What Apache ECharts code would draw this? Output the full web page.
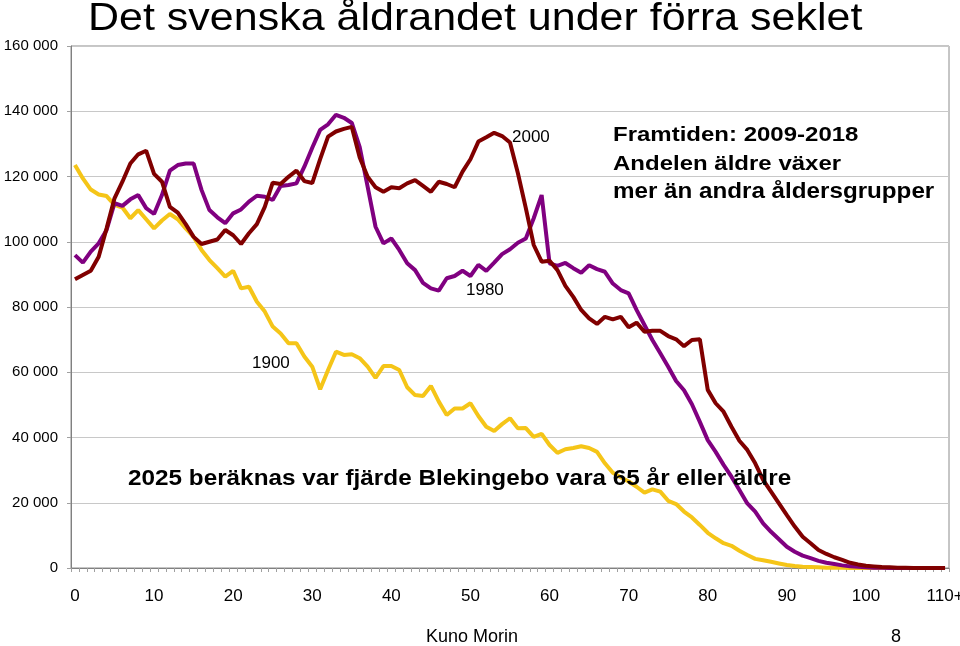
<!DOCTYPE html>
<html>
<head>
<meta charset="utf-8">
<script src="https://cdn.jsdelivr.net/npm/echarts@6/dist/echarts.min.js"></script>
<style>
html,body{margin:0;padding:0;background:#fff;}
#chart{width:960px;height:646px;}
</style>
</head>
<body>
<div id="chart"></div>
<script>
const categories = ['0','1','2','3','4','5','6','7','8','9',
'10','11','12','13','14','15','16','17','18','19',
'20','21','22','23','24','25','26','27','28','29',
'30','31','32','33','34','35','36','37','38','39',
'40','41','42','43','44','45','46','47','48','49',
'50','51','52','53','54','55','56','57','58','59',
'60','61','62','63','64','65','66','67','68','69',
'70','71','72','73','74','75','76','77','78','79',
'80','81','82','83','84','85','86','87','88','89',
'90','91','92','93','94','95','96','97','98','99',
'100','101','102','103','104','105','106','107','108','109','110+'];

const y1900 = [123500,119400,116000,114500,114000,111300,110500,107200,109700,106900,
104100,106500,108500,106900,104100,101500,97500,94400,91900,89300,
91100,85700,86200,81600,78600,74000,71900,68900,68900,64800,
61700,54800,60700,66300,65300,65500,64300,61700,58300,61900,
61900,60700,55400,53000,52700,55800,51000,46900,48900,48900,
50500,46600,43300,42000,44100,45900,42800,42900,40200,41100,
37700,35300,36400,36800,37300,36800,35600,32100,29200,27800,
26500,24900,23100,24100,23400,20600,19600,17300,15500,13200,
10800,9100,7600,6800,5300,4000,2800,2400,1900,1400,
900,600,400,300,200,100,80,50,30,20,
0,0,0,0,0,0,0,0,0,0,0];

const y1980 = [95900,93600,97000,99500,103600,111800,111000,113000,114300,110300,
108500,114300,121800,123500,124000,124000,115900,109700,107500,105700,
108700,109900,112300,114100,113800,112800,117100,117400,117900,123000,
128800,134300,136000,138900,138000,136400,129000,116900,104600,99500,
101000,97500,93400,91300,87400,85700,85000,88800,89500,91100,
89500,92900,91100,93600,96200,97700,99700,101000,107200,114300,
93400,92600,93500,91900,90500,92800,91600,90800,87200,85200,
84200,79100,74500,69900,65800,61700,57300,54500,50200,44800,
39200,35600,31600,28000,23900,19800,17300,13700,11100,8800,
6500,5000,3800,3000,2200,1600,1200,800,500,350,
200,100,50,0,0,0,0,0,0,0,0];

const y2000 = [88500,89800,91100,95400,104100,113300,118400,124000,126800,127900,
120800,118400,110700,108900,105400,101500,99300,100000,100700,103600,
102000,99300,102600,105400,110700,118100,117700,119900,121800,118600,
118000,125300,132200,133800,134600,135200,125800,119900,116700,115300,
116700,116400,117900,118900,117100,115300,118400,117700,116700,121500,
125300,130700,132000,133400,132400,130400,121000,110300,99000,93900,
94200,91300,86500,83100,79100,76500,74800,77000,76200,77000,
73800,75200,72400,72700,72700,71100,70100,68000,69900,70100,
54600,50500,47900,43300,39000,36200,32100,27000,23400,19800,
16200,12700,9600,7600,5500,4300,3300,2500,1600,1100,
700,500,300,200,100,50,0,0,0,0,0];

const FONT = '"Liberation Sans", Arial, sans-serif';

const chart = echarts.init(document.getElementById('chart'), null, {renderer:'canvas'});

function txt(text, x, y, size, opts) {
  opts = opts || {};
  return {
    type: 'text', x: x, y: y, z: 100,
    scaleY: opts.scaleY || 1,
    style: {
      text: text,
      fontSize: size,
      fontFamily: FONT,
      fontWeight: opts.bold ? 'bold' : 'normal',
      fill: '#000',
      align: opts.align || 'left',
      verticalAlign: 'middle'
    }
  };
}

const option = {
  animation: false,
  backgroundColor: '#fff',
  grid: {left: 71, right: 11, top: 46, bottom: 78, containLabel: false, outerBoundsMode: 'none',
         show: true, borderColor: '#8c8c8c', borderWidth: 1},
  xAxis: {
    type: 'category',
    data: categories,
    boundaryGap: true,
    axisLine: {lineStyle: {color: '#808080', width: 1}},
    axisTick: {show: true, interval: 0, length: 4, lineStyle: {color: '#a0a0a0'}},
    axisLabel: {interval: 9, fontSize: 17, color: '#000', margin: 20, fontFamily: FONT, hideOverlap: false},
    splitLine: {show: false}
  },
  yAxis: {
    type: 'value',
    min: 0, max: 160000, interval: 20000,
    axisLine: {show: true, lineStyle: {color: '#808080', width: 1}},
    axisTick: {show: true, length: 4, lineStyle: {color: '#a0a0a0'}},
    axisLabel: {
      fontSize: 15, color: '#000', margin: 13, fontFamily: FONT,
      formatter: function (v) { return v === 0 ? '0' : (v / 1000) + ' 000'; }
    },
    splitLine: {show: true, lineStyle: {color: '#c8c8c8', width: 1}}
  },
  series: [
    {name: '1900', type: 'line', data: y1900, symbol: 'none', lineStyle: {width: 4, color: '#F5C518'}, itemStyle: {color: '#F5C518'}},
    {name: '1980', type: 'line', data: y1980, symbol: 'none', lineStyle: {width: 4, color: '#800080'}, itemStyle: {color: '#800080'}},
    {name: '2000', type: 'line', data: y2000, symbol: 'none', lineStyle: {width: 4, color: '#800000'}, itemStyle: {color: '#800000'}}
  ],
  graphic: [
    txt('Det svenska åldrandet under förra seklet', 88, 19, 43, {scaleY: 0.91}),
    txt('2000', 512, 137, 17),
    txt('1980', 466, 290, 17),
    txt('1900', 252, 363.5, 17),
    txt('Framtiden: 2009-2018', 613, 135.5, 24, {bold: true, scaleY: 0.88}),
    txt('Andelen äldre växer', 613, 164, 24, {bold: true, scaleY: 0.88}),
    txt('mer än andra åldersgrupper', 613, 192.5, 24.2, {bold: true, scaleY: 0.88}),
    txt('2025 beräknas var fjärde Blekingebo vara 65 år eller äldre', 128, 479, 24.3, {bold: true, scaleY: 0.92}),
    txt('Kuno Morin', 472, 637, 18, {align: 'center'}),
    txt('8', 896, 637.5, 18, {align: 'center'})
  ]
};
chart.setOption(option);
</script>
</body>
</html>
